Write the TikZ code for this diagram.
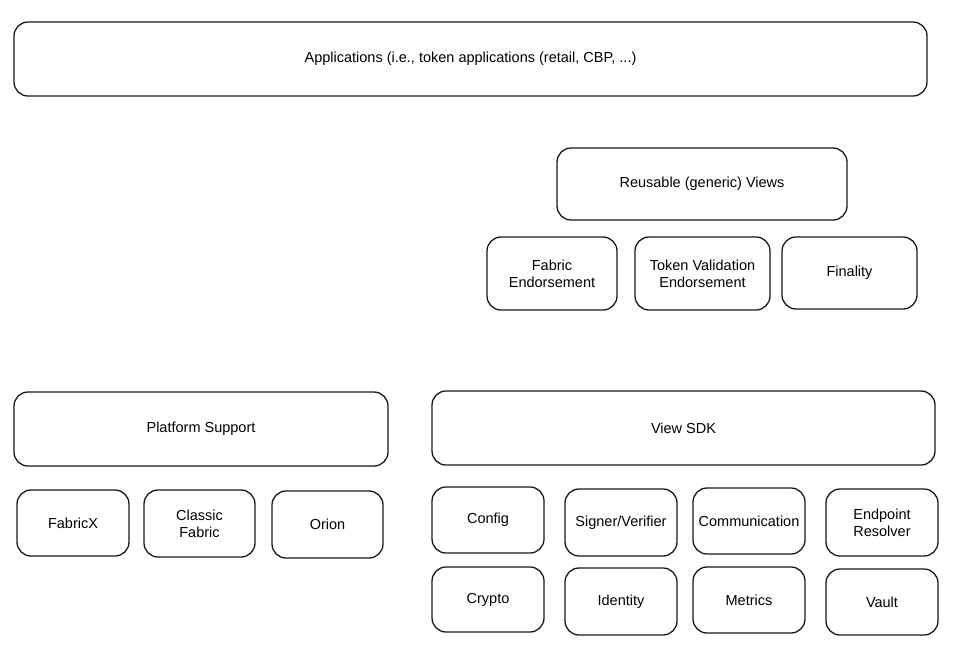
\documentclass[tikz,border=0pt]{standalone}
\usepackage{fontspec}
\setmainfont{Liberation Sans}
\begin{document}
\begin{tikzpicture}[x=1pt,y=-1pt,
  box/.style={draw=black!90, line width=1.3pt, rounded corners=14pt, align=center,
    font=\fontsize{14.5}{17}\selectfont, inner sep=1pt}]
\useasboundingbox (0,0) rectangle (963,665);
\fill[white] (0,0) rectangle (963,665);
\newcommand{\bx}[6]{\node[box, minimum width=#3-#2, minimum height=#5-#4] (#1) at ({(#2+#3)/2},{(#4+#5)/2}) {#6};}
\bx{apps}{14}{927}{22}{96}{Applications (i.e., token applications (retail, CBP, ...)}
\bx{views}{557}{847}{148}{220}{Reusable (generic) Views}
\bx{fendo}{487}{617}{237}{310}{Fabric\\Endorsement}
\bx{tvendo}{635}{770}{237}{310}{Token Validation\\Endorsement}
\bx{final}{782}{917}{237}{309}{Finality}
\bx{plat}{14}{388}{392}{466}{Platform Support}
\bx{sdk}{432}{935}{391}{465}{View SDK}
\bx{fabx}{17}{129}{490}{556}{FabricX}
\bx{cfab}{144}{255}{490}{557}{Classic\\Fabric}
\bx{orion}{272}{383}{491}{558}{Orion}
\bx{config}{432}{544}{487}{553}{Config}
\bx{signer}{565}{677}{489}{556}{Signer/Verifier}
\bx{comm}{693}{805}{488}{554}{Communication}
\bx{endp}{826}{938}{489}{556}{Endpoint\\Resolver}
\bx{crypto}{432}{544}{567}{632}{Crypto}
\bx{ident}{565}{677}{568}{635}{Identity}
\bx{metrics}{693}{805}{567}{633}{Metrics}
\bx{vault}{826}{938}{569}{635}{Vault}
\end{tikzpicture}
\end{document}
